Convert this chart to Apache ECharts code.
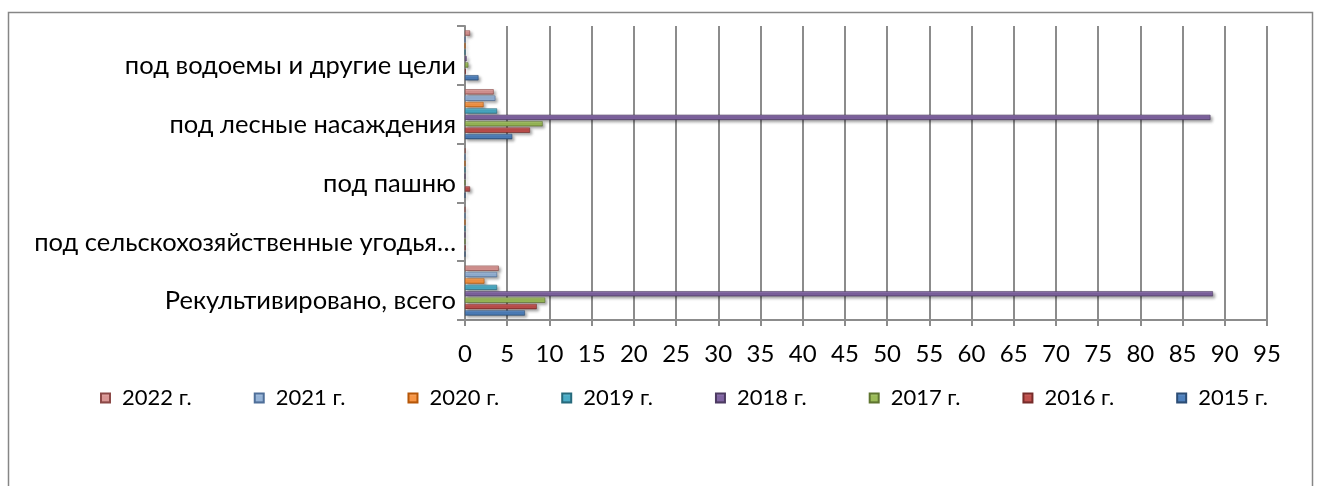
<!DOCTYPE html>
<html>
<head>
<meta charset="utf-8">
<script src="https://cdn.jsdelivr.net/npm/echarts@6/dist/echarts.min.js"></script>
<style>
  html, body { margin: 0; padding: 0; background: #fff; }
  #chart { width: 1322px; height: 486px; }
</style>
</head>
<body>
<div id="chart"></div>
<script>
// Рекультивация земель по направлениям, тыс. га
const categories = [
  'Рекультивировано, всего',
  'под сельскохозяйственные угодья…',
  'под пашню',
  'под лесные насаждения',
  'под водоемы и другие цели'
];
const years = ['2015 г.', '2016 г.', '2017 г.', '2018 г.', '2019 г.', '2020 г.', '2021 г.', '2022 г.'];

const v2015 = [7.1, 0, 0, 5.6, 1.6];
const v2016 = [8.5, 0.05, 0.6, 7.7, 0.1];
const v2017 = [9.5, 0, 0, 9.2, 0.4];
const v2018 = [88.6, 0, 0, 88.3, 0.2];
const v2019 = [3.8, 0, 0, 3.8, 0];
const v2020 = [2.3, 0, 0, 2.2, 0];
const v2021 = [3.8, 0, 0, 3.6, 0];
const v2022 = [4.0, 0, 0.05, 3.4, 0.6];

const xTicks = [0, 5, 10, 15, 20, 25, 30, 35, 40, 45, 50, 55, 60, 65, 70, 75, 80, 85, 90, 95];

const seriesValues = [v2015, v2016, v2017, v2018, v2019, v2020, v2021, v2022];
// base colour, light top edge, dark bottom edge
const palette = [
  ['#4f81bd', '#7aa3d6', '#2c4d75'],
  ['#c0504d', '#dc7c79', '#772c2a'],
  ['#9bbb59', '#bcd68a', '#5f7530'],
  ['#8064a2', '#a48dc0', '#4d3b62'],
  ['#4bacc6', '#7fcde0', '#276a7c'],
  ['#f79646', '#fbb983', '#b65708'],
  ['#95b3d7', '#bfd2ea', '#4f6f99'],
  ['#d99694', '#eebcbb', '#8c4947']
];

const FONT = 'Lato';

function bevel(c) {
  return new echarts.graphic.LinearGradient(0, 0, 0, 1, [
    { offset: 0, color: c[1] },
    { offset: 0.35, color: c[0] },
    { offset: 0.75, color: c[0] },
    { offset: 1, color: c[2] }
  ]);
}

// latest year first so it sits at the top of each group
const series = years.map((name, i) => ({
  name: name,
  type: 'bar',
  data: seriesValues[i],
  barGap: '22%',
  barCategoryGap: '15%',
  itemStyle: {
    color: bevel(palette[i]),
    borderColor: palette[i][2],
    borderWidth: 0.6,
    shadowColor: 'rgba(0,0,0,0.35)',
    shadowBlur: 3,
    shadowOffsetX: 2,
    shadowOffsetY: 2
  },
  emphasis: { disabled: true }
})).reverse();

const chart = echarts.init(document.getElementById('chart'), null, { renderer: 'canvas' });
chart.setOption({
  animation: false,
  backgroundColor: '#ffffff',
  textStyle: { fontFamily: FONT },
  graphic: [{
    type: 'rect',
    shape: { x: 8.5, y: 12.5, width: 1304, height: 490 },
    style: { fill: 'none', stroke: '#868686', lineWidth: 1.5 },
    silent: true
  }],
  grid: { left: 465, right: 55, top: 26, bottom: 166 },
  legend: {
    data: years.slice().reverse(),
    left: 100,
    top: 387,
    padding: 0,
    icon: 'rect',
    itemWidth: 9,
    itemHeight: 9,
    itemGap: 62,
    textStyle: {
      fontFamily: FONT, fontSize: 22, color: '#000',
      width: 68, padding: [0, 0, 0, 7]
    }
  },
  xAxis: {
    type: 'value',
    min: 0,
    max: 95,
    interval: 5,
    axisLine: { show: true, lineStyle: { color: '#8c8c8c', width: 2 } },
    axisTick: { show: true, length: 6, lineStyle: { color: '#8c8c8c', width: 2 } },
    splitLine: { show: true, lineStyle: { color: '#8c8c8c', width: 2 } },
    axisLabel: {
      fontFamily: FONT,
      fontSize: 24,
      color: '#000',
      margin: 22,
      formatter: v => (xTicks.indexOf(v) >= 0 ? String(v) : '')
    }
  },
  yAxis: {
    type: 'category',
    data: categories,
    axisLine: { show: true, lineStyle: { color: '#8c8c8c', width: 2 } },
    axisTick: { show: true, length: 8, lineStyle: { color: '#8c8c8c', width: 2 } },
    splitLine: { show: false },
    axisLabel: {
      fontFamily: FONT,
      fontSize: 25.5,
      color: '#000',
      margin: 9,
      verticalAlign: 'top',
      lineHeight: 21
    }
  },
  series: series
});
</script>
</body>
</html>
